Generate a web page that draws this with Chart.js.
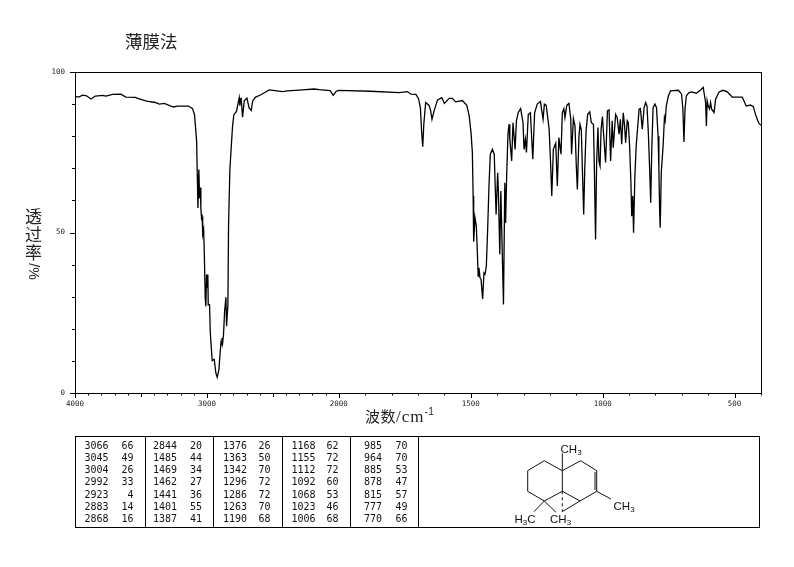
<!DOCTYPE html>
<html><head><meta charset="utf-8">
<script src="https://cdn.jsdelivr.net/npm/chart.js@4"></script>
<style>
html,body{margin:0;padding:0;background:#fff;}
#wrap{position:relative;width:794px;height:567px;overflow:hidden;color:#000;}
canvas{position:absolute;left:0;top:0;}
.abs{position:absolute;white-space:nowrap;line-height:1;}
#title{left:125px;top:32px;font:17.5px/1 "Noto Sans CJK SC";color:#222;}
.yc{position:absolute;left:25px;font:17px/1 "Noto Sans CJK SC";color:#222;}
#ypct{position:absolute;left:25px;top:263px;width:17px;height:17px;font:14px/17px "Liberation Sans";color:#222;text-align:center;transform:rotate(90deg);}
#xlab{left:365px;top:408px;font:15px/1 "Noto Sans CJK SC";color:#222;letter-spacing:.5px;}
#xlab .u{font:17px/1 "Liberation Serif";letter-spacing:1px;}
#xlab sup{font:10px/1 "Liberation Sans";position:relative;top:-7px;vertical-align:baseline;}
#table{position:absolute;left:75px;top:436px;width:685px;height:92px;border:1px solid #000;box-sizing:border-box;}
.sep{position:absolute;top:0;bottom:0;width:1px;background:#000;}
.cell{position:absolute;font:10px "DejaVu Sans Mono";text-align:right;width:40px;line-height:10px;color:#111;}
svg{position:absolute;left:0;top:0;}
svg text{font-family:"Liberation Sans";font-size:11.5px;fill:#111;}
svg tspan.s{font-size:8px;}
</style></head>
<body><div id="wrap">
<canvas id="c" width="794" height="567"></canvas>
<div class="abs" id="title">薄膜法</div>
<div class="yc" style="top:207px">透</div>
<div class="yc" style="top:225px">过</div>
<div class="yc" style="top:243px">率</div>
<div id="ypct">/%</div>
<div class="abs" id="xlab">波数<span class="u">/cm</span><sup>-1</sup></div>
<div id="table"></div>
<svg width="794" height="567" viewBox="0 0 794 567">
<g stroke="#111" stroke-width="1" fill="none">
<path d="M562.3,470.7 L544.3,460.7 L527.7,470.7 L527.7,491.3 L544.3,501 L562.3,491.3 Z"/>
<path d="M562.3,470.7 L580.7,460.7 L596.7,470.7 L596.7,491.3 L580,501 L562.3,491.3"/>
<path d="M595,472 L595,490"/>
<path d="M562.3,470.7 L562.3,453.3"/>
<path d="M596.7,491.3 L611,499"/>
<path d="M544.3,501 L534,511.7"/>
<path d="M544.3,501 L556,512.3"/>
<path d="M580,501 L562.3,511.7"/>
<path d="M562.3,491.3 L562.3,511.7" stroke-dasharray="3 3"/>
</g>
<text x="560.5" y="453">CH<tspan class="s" dy="2">3</tspan></text>
<text x="613.5" y="510">CH<tspan class="s" dy="2">3</tspan></text>
<text x="514.5" y="523">H<tspan class="s" dy="2">3</tspan><tspan dy="-2">C</tspan></text>
<text x="550" y="523">CH<tspan class="s" dy="2">3</tspan></text>
</svg>
</div>
<script>
// Spectrum: wavenumber (cm-1) and transmittance (%)
const wavenumbers = [4000,3972,3942,3912,3879,3846,3790,3765,3715,3652,3615,3543,3513,3457,3392,3361,3323,3255,3222,3139,3109,3094,3088,3078,3073,3068,3061,3056,3050,3046,3041,3036,3032,3025,3020,3013,3008,3003,2998,2993,2990,2980,2975,2965,2960,2945,2932,2922,2909,2902,2894,2890,2886,2881,2874,2866,2856,2851,2841,2836,2826,2816,2806,2796,2776,2755,2750,2745,2740,2730,2717,2697,2680,2664,2654,2634,2591,2528,2427,2389,2275,2187,2149,2066,2043,2020,2000,1880,1772,1740,1727,1708,1698,1691,1686,1682,1678,1671,1658,1652,1647,1639,1626,1610,1600,1582,1570,1557,1532,1515,1506,1499,1494,1491,1489,1484,1479,1475,1472,1469,1465,1461,1455,1450,1446,1441,1436,1431,1426,1418,1411,1407,1404,1398,1395,1390,1386,1381,1376,1371,1368,1364,1359,1355,1352,1345,1340,1332,1327,1320,1311,1302,1298,1293,1289,1282,1274,1265,1258,1248,1236,1226,1221,1214,1203,1197,1193,1187,1178,1172,1166,1158,1153,1147,1143,1136,1128,1121,1118,1111,1105,1100,1096,1090,1086,1081,1077,1072,1068,1063,1057,1049,1043,1035,1032,1027,1023,1018,1014,1010,1006,1001,996,989,982,976,970,964,960,951,945,938,933,928,922,917,913,907,903,898,893,890,886,883,878,873,868,862,857,850,843,837,832,827,822,818,814,809,802,796,790,787,784,782,778,771,766,763,759,751,743,713,701,696,692,688,683,673,664,645,629,619,614,610,607,604,600,595,591,587,578,572,559,544,528,509,471,456,440,429,421,412,408,400];
const transmittance = [92.4,92.2,92.8,92.6,91.6,92.5,92.7,92.5,93.0,93.1,92.2,92.1,91.6,90.9,90.5,90.0,90.2,89.1,89.4,89.4,88.6,86.7,83.6,78.4,68,57.6,69.6,60.7,64,57.6,54.5,55,49.5,50.9,44,29.6,27,36.9,33,36.9,27.5,27.5,19.2,13,10.1,10.5,6.2,4.9,7.3,11.4,15.6,15,17.1,15.5,18.4,25.4,29.8,20.8,27.5,52.4,69.6,76.3,83,86.7,87.7,92,89.5,91.5,91.7,85.9,91,91.9,88.8,88,90.9,92.1,92.9,94.4,93.9,94.1,94.4,94.7,94.5,94.2,92.7,94,94.3,94.0,93.6,93.9,93.1,93,91.7,88.9,81.1,76.7,83.7,90.5,89.6,87.9,85.3,87.9,91.3,92,90.2,91.8,91.8,90.7,91.1,89.6,86.3,81.1,74.9,61.4,47.1,54.6,52,43.7,36.4,39,35.9,35.4,29.3,37.4,37,39.5,51,64.5,74.3,75.9,74.3,63.4,55.6,68.6,62,43.2,62.9,45,27.6,65.5,53,67.6,80.6,83.7,79,72.3,84.2,75.9,84.8,87.4,88.6,84.2,75.9,79,74.9,86.8,87.3,72.8,87.3,90,90.8,85.3,90,89.6,82.2,70.7,61.4,75.9,77.8,64.5,79.6,74.4,87.3,88.6,85.8,89.6,90.2,85.3,74.4,85.5,83.2,70.7,63.4,80,83.7,82,69.7,55.6,69.7,81.6,86.8,87.6,84.2,83.7,71.8,47.8,71.8,82.7,72,70.7,82.2,86.1,80,71.8,87.9,88.2,72.3,84.8,76.4,86.8,85.8,80.6,85.3,77.5,87.3,83.2,78,84.8,84.2,77,65.5,55.1,61.4,49.9,67.6,77,82.2,88.4,88.6,82.2,88.9,90.5,89.4,81.1,69.7,59.3,75.9,88.9,90,88.9,80,69.7,56.2,51.5,68.6,77,85.8,84.8,89.4,92.6,94.1,94.3,93.1,88.4,78.2,88.4,92.6,93.6,93.8,93.4,94.4,95.2,92.6,90.5,83.2,91,89.4,88.5,90.5,88.4,87.4,91.5,93.8,94.3,93.8,92.2,92.2,89.4,89.7,89.2,86.8,84.8,84,83.4];

const xTickValues = [4000,3000,2000,1500,1000,500];
const yTickLabels = [100,50,0];

// Peak table, column by column, as printed
const peakWave1 = [3066,3045,3004,2992,2923,2883,2868];
const peakTrans1 = [66,49,26,33,4,14,16];
const peakWave2 = [2844,1485,1469,1462,1441,1401,1387];
const peakTrans2 = [20,44,34,27,36,55,41];
const peakWave3 = [1376,1363,1342,1296,1286,1263,1190];
const peakTrans3 = [26,50,70,72,72,70,68];
const peakWave4 = [1168,1155,1112,1092,1068,1023,1006];
const peakTrans4 = [62,72,72,60,53,46,68];
const peakWave5 = [985,964,885,878,815,777,770];
const peakTrans5 = [70,70,53,47,57,49,66];

// The printed wavenumber axis doubles its scale below 2000 cm-1
const axisPos = w => w >= 2000 ? 4000 - w : 2000 + (2000 - w) * 2;

const tbl = document.getElementById('table');
const tLeft = 75, tTop = 436;
const rowY = [445.7,458,470,482.3,495,507.3,519.3];
const colEnds = [[108.5,133.5],[177,202],[247,270.5],[315.5,338.5],[382,407.5]];
[[peakWave1,peakTrans1],[peakWave2,peakTrans2],[peakWave3,peakTrans3],[peakWave4,peakTrans4],[peakWave5,peakTrans5]].forEach((col,ci)=>{
  col.forEach((arr,k)=>arr.forEach((v,r)=>{
    const d=document.createElement('div');d.className='cell';d.textContent=v;
    d.style.left=(colEnds[ci][k]-40-tLeft-1)+'px';
    d.style.top=(rowY[r]-5-tTop-1)+'px';
    tbl.appendChild(d);
  }));
});
[144.5,212.5,281.5,349.5,418].forEach(x=>{
  const s=document.createElement('div');s.className='sep';s.style.left=(x-tLeft-1)+'px';tbl.appendChild(s);
});

const frameTicks = {
  id:'frameTicks',
  afterDraw(chart){
    const {ctx,chartArea:a,scales:{x,y}}=chart;
    ctx.save();
    ctx.strokeStyle='#000';ctx.lineWidth=1;
    ctx.strokeRect(Math.round(a.left)+.5,Math.round(a.top)+.5,Math.round(a.width),Math.round(a.height));
    ctx.beginPath();
    for(let v=0;v<=100;v+=10){
      const p=Math.round(y.getPixelForValue(v))+.5, l=v%50===0?5:3;
      ctx.moveTo(a.left-l,p);ctx.lineTo(a.left,p);
    }
    for(let w=4000;w>=400;w-=100){
      const p=Math.round(x.getPixelForValue(axisPos(w)))+.5;
      const l=xTickValues.includes(w)?5:(w%500===0?4:2.5);
      ctx.moveTo(p,a.bottom);ctx.lineTo(p,a.bottom+l);
    }
    ctx.stroke();ctx.restore();
  }
};

new Chart(document.getElementById('c'),{
  type:'line',
  data:{datasets:[{
    data:wavenumbers.map((w,i)=>({x:axisPos(w),y:transmittance[i]})),
    borderColor:'#000',borderWidth:1.3,pointRadius:0,tension:0,fill:false
  }]},
  options:{
    responsive:false,animation:false,devicePixelRatio:1,
    layout:{padding:{left:0,top:72,right:33,bottom:0}},
    plugins:{legend:{display:false},tooltip:{enabled:false},title:{display:false}},
    scales:{
      x:{type:'linear',min:axisPos(4000),max:axisPos(400),
        grid:{display:false,drawTicks:false},border:{display:false},
        afterBuildTicks(s){s.ticks=xTickValues.map(w=>({value:axisPos(w)}));},
        afterFit(s){s.height=174;},
        ticks:{autoSkip:false,maxRotation:0,padding:7,color:'#222',font:{family:'DejaVu Sans Mono',size:7.5},
          callback(v){const w=xTickValues.find(t=>axisPos(t)===v);return w===undefined?'':String(w);}}
      },
      y:{type:'linear',min:0,max:100,
        grid:{display:false,drawTicks:false},border:{display:false},
        afterBuildTicks(s){s.ticks=yTickLabels.map(v=>({value:v}));},
        afterFit(s){s.width=75;},
        ticks:{padding:10,color:'#222',font:{family:'DejaVu Sans Mono',size:7.5}}
      }
    }
  },
  plugins:[frameTicks]
});
</script>
</body></html>
